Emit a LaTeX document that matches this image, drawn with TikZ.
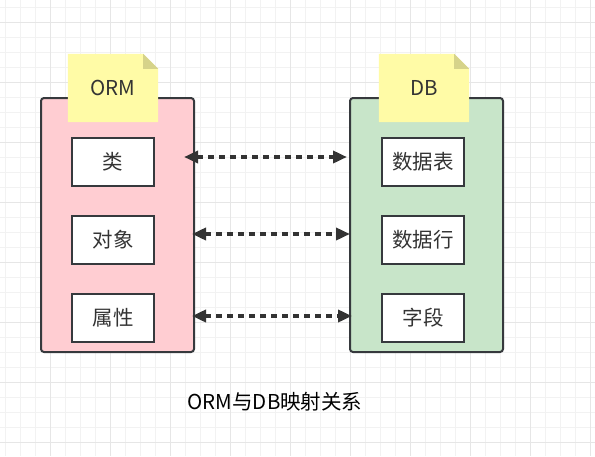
\documentclass[tikz,border=0pt]{standalone}
\usepackage{fontspec}
\setmainfont{Noto Sans CJK SC}
\usetikzlibrary{arrows.meta}
\definecolor{gridminor}{HTML}{F2F2F2}
\definecolor{gridmajor}{HTML}{E6E6E6}
\definecolor{edge}{HTML}{36393D}
\definecolor{txt}{HTML}{333333}
\definecolor{pinkfill}{HTML}{FFCDD2}
\definecolor{greenfill}{HTML}{C8E5C9}
\definecolor{notefill}{HTML}{FFFBA6}
\definecolor{foldfill}{HTML}{D6D38A}
\begin{document}
\begin{tikzpicture}[x=1pt,y=-1pt,
  container/.style={draw=edge,line width=2pt,rounded corners=3pt,inner sep=0pt,
    minimum width=153pt,minimum height=254pt},
  itembox/.style={draw=edge,line width=2pt,fill=white,inner sep=0pt,
    minimum width=82pt,minimum height=48pt,text=txt,font=\fontsize{20.5}{22}\selectfont},
  notebox/.style={inner sep=0pt,minimum width=90pt,minimum height=68pt,
    text=txt,font=\fontsize{20.5}{22}\selectfont},
  link/.style={draw=txt,line width=3.5pt,dash pattern=on 5.5pt off 5.5pt,
    {Triangle[length=14pt,width=12pt]}-{Triangle[length=14pt,width=12pt]}},
]
\useasboundingbox (0,0) rectangle (595,456);
\fill[white] (0,0) rectangle (595,456);
% grid
\foreach \x in {5,20,...,590} \draw[gridminor,line width=1pt] (\x,0) -- (\x,456);
\foreach \y in {7,22,...,452} \draw[gridminor,line width=1pt] (0,\y) -- (595,\y);
\foreach \x in {50,110,...,590} \draw[gridmajor,line width=1pt] (\x,0) -- (\x,456);
\foreach \y in {22,82,...,452} \draw[gridmajor,line width=1pt] (0,\y) -- (595,\y);

% containers
\node[container,fill=pinkfill] (orm) at (117.5,225) {};
\node[container,fill=greenfill] (db) at (426.5,225) {};

% notes
\node[notebox] (ormnote) at (113,88) {};
\node[notebox] (dbnote) at (424,88) {};
\foreach \n in {ormnote,dbnote}{
  \fill[notefill] (\n.north west) -- ([xshift=-15pt]\n.north east)
     -- ([yshift=-15pt]\n.north east) -- (\n.south east) -- (\n.south west) -- cycle;
  \fill[foldfill] ([xshift=-15pt]\n.north east) -- ([xshift=-15pt,yshift=-15pt]\n.north east)
     -- ([yshift=-15pt]\n.north east) -- cycle;
}
\node[notebox] at (ormnote) {ORM};
\node[notebox] at (dbnote) {DB};

% items
\node[itembox] (lei) at (113,162) {类};
\node[itembox] (duixiang) at (113,240) {对象};
\node[itembox] (shuxing) at (113,318) {属性};
\node[itembox] (biao) at (423,162) {数据表};
\node[itembox] (hang) at (423,240) {数据行};
\node[itembox] (ziduan) at (423,318) {字段};

% connectors
\coordinate (l1) at (184,157);
\coordinate (r1) at (347,157);
\coordinate (l2) at (192,234);
\coordinate (r2) at (350,234);
\coordinate (l3) at (192,316);
\coordinate (r3) at (352,316);
\draw[link] (l1) -- (r1);
\draw[link] (l2) -- (r2);
\draw[link] (l3) -- (r3);

% caption
\node[text=black,font=\fontsize{20.5}{22}\selectfont,inner sep=0pt] (caption) at (275,402) {ORM与DB映射关系};
\end{tikzpicture}
\end{document}
